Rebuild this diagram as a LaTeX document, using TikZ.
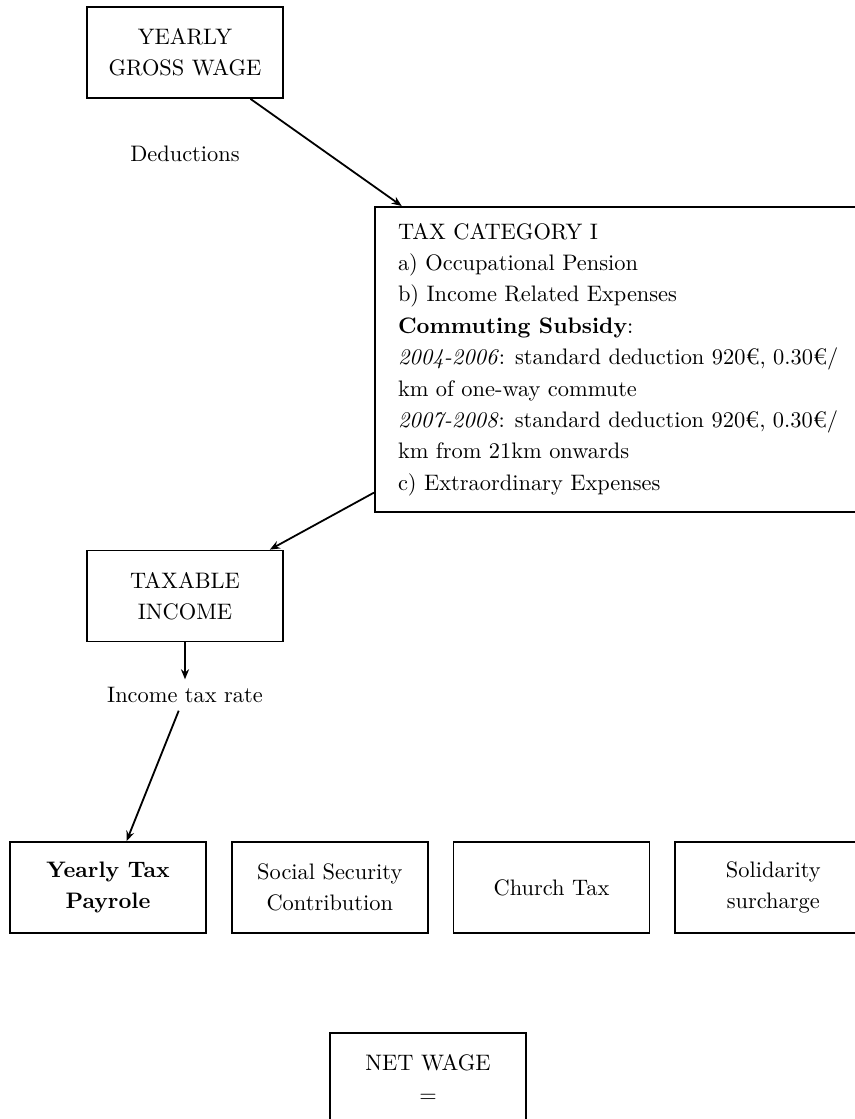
\documentclass[tikz,border=0pt]{standalone}
\usepackage{fontspec}
\usetikzlibrary{positioning}
\usetikzlibrary{arrows.meta}

\begin{document}
\begin{tikzpicture}[x=0.4464pt, y=-0.4464pt, >={Stealth[length=4.5pt,width=3.6pt]},
  every node/.style={font=\fontsize{10}{14}\selectfont},
  box/.style={draw, thick, minimum width=87.5pt, minimum height=40.6pt, align=center}]
  \useasboundingbox (0,0) rectangle (855,1119);

  \node[box] (gross) at (185,52.5) {YEARLY\\GROSS WAGE};
  \node (deduct) at (185,154) {Deductions};
  \node[draw, thick, anchor=north west, align=left, minimum width=217.2pt, minimum height=136.2pt] (tax) at (374,206)
  {TAX CATEGORY I\\
   a) Occupational Pension\\
   b) Income Related Expenses\\
   \textbf{Commuting Subsidy}:\\
   \textit{2004-2006}: standard deduction 920€, 0.30€/\\
   km of one-way commute\\
   \textit{2007-2008}: standard deduction 920€, 0.30€/\\
   km from 21km onwards\\
   c) Extraordinary Expenses};
  \node[box] (taxable) at (185,596) {TAXABLE\\INCOME};
  \node (rate) at (185,695) {Income tax rate};

  \node[box] (payroll) at (108,887.5) {\textbf{Yearly Tax}\\\textbf{Payrole}};
  \node[box, right=10.7pt of payroll] (social) {Social Security\\Contribution};
  \node[box, right=10.7pt of social] (church) {Church Tax};
  \node[box, right=10.7pt of church] (soli) {Solidarity\\surcharge};
  \node[box, anchor=north] (net) at (428,1032) {NET WAGE\\=};

  % Flèches entre les boîtes
  \path[->, thick] (gross) edge (tax);
  \path[->, thick] (tax) edge (taxable);
  \path[->, thick] (taxable) edge (rate);
  \path[->, thick] (rate) edge (payroll);

\end{tikzpicture}
\end{document}
